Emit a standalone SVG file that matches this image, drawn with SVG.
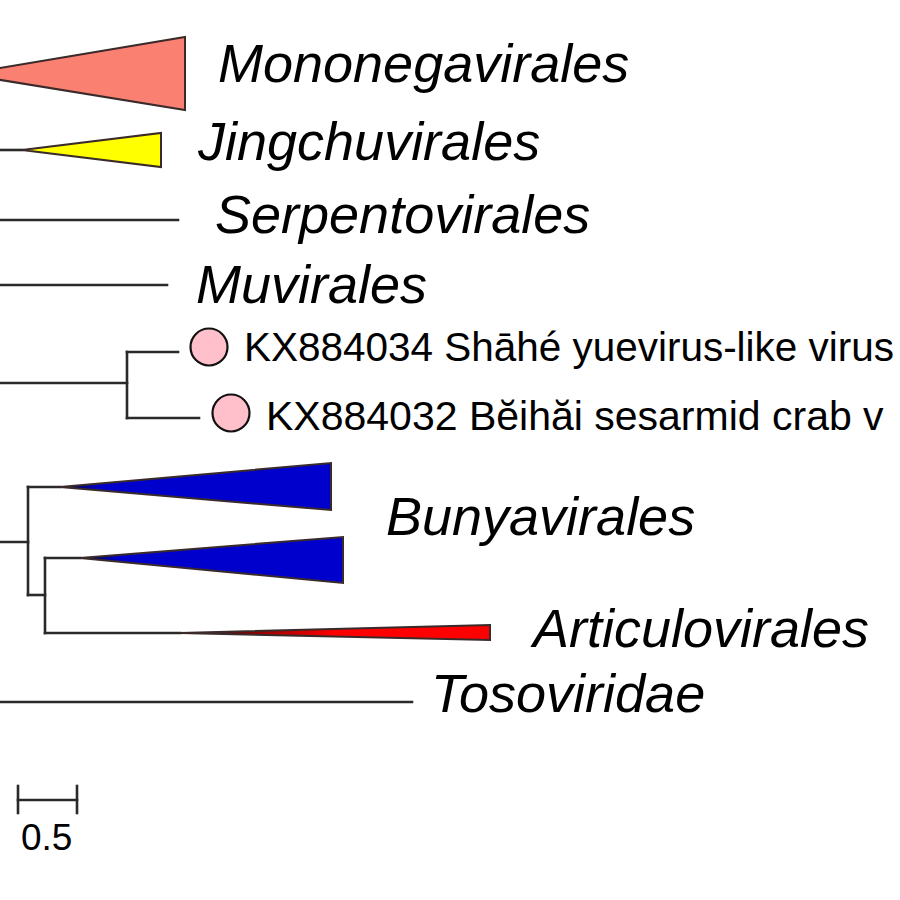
<svg xmlns="http://www.w3.org/2000/svg" width="900" height="900" viewBox="0 0 900 900">
<style>
.br{stroke:#2a2a2a;stroke-width:2.6;fill:none;stroke-linecap:square}
.tri{stroke:#3a2a2a;stroke-width:2;stroke-linejoin:miter}
.lab{font-family:"Liberation Sans",Arial,sans-serif;font-style:italic;font-size:54px;fill:#000}
.acc{font-family:"Liberation Sans",Arial,sans-serif;font-size:41px;fill:#000}
.dot{fill:#FFC0CB;stroke:#111;stroke-width:2.2}
</style>
<defs>
<linearGradient id="redg" x1="180" y1="0" x2="490" y2="0" gradientUnits="userSpaceOnUse">
<stop offset="0" stop-color="#2a0000"/>
<stop offset="0.5" stop-color="#ff0000"/>
<stop offset="1" stop-color="#ff0000"/>
</linearGradient>
<linearGradient id="blueg1" x1="60" y1="0" x2="331" y2="0" gradientUnits="userSpaceOnUse">
<stop offset="0" stop-color="#000030"/>
<stop offset="0.15" stop-color="#0000CD"/>
<stop offset="1" stop-color="#0000CD"/>
</linearGradient>
<linearGradient id="blueg2" x1="80" y1="0" x2="343" y2="0" gradientUnits="userSpaceOnUse">
<stop offset="0" stop-color="#000030"/>
<stop offset="0.15" stop-color="#0000CD"/>
<stop offset="1" stop-color="#0000CD"/>
</linearGradient>
</defs>
<rect x="0" y="0" width="900" height="900" fill="#fff"/>
<g id="connectors">
<line class="br" x1="-5" y1="150" x2="22" y2="150"/>
<line class="br" x1="-5" y1="220" x2="178" y2="220"/>
<line class="br" x1="-5" y1="285" x2="167" y2="285"/>
<line class="br" x1="-5" y1="383" x2="127" y2="383"/>
<line class="br" x1="127" y1="352" x2="127" y2="418"/>
<line class="br" x1="127" y1="352" x2="178" y2="352"/>
<line class="br" x1="127" y1="418" x2="199" y2="418"/>
<line class="br" x1="-5" y1="542" x2="28" y2="542"/>
<line class="br" x1="28" y1="487" x2="28" y2="595"/>
<line class="br" x1="28" y1="487" x2="60" y2="487"/>
<line class="br" x1="28" y1="595" x2="45" y2="595"/>
<line class="br" x1="45" y1="558" x2="45" y2="633"/>
<line class="br" x1="45" y1="558" x2="80" y2="558"/>
<line class="br" x1="45" y1="633" x2="180" y2="633"/>
<line class="br" x1="-5" y1="702" x2="412" y2="702"/>
</g>
<g id="mononegavirales">
<polygon class="tri" fill="#FA8072" points="-36,74 185,37 185,110"/>
<text class="lab" x="218" y="82">Mononegavirales</text>
</g>
<g id="jingchuvirales">
<polygon class="tri" fill="#FFFF00" points="22,150 161,133 161,167"/>
<text class="lab" x="198" y="160">Jingchuvirales</text>
</g>
<g id="serpentovirales">
<text class="lab" x="215" y="233">Serpentovirales</text>
</g>
<g id="muvirales">
<text class="lab" x="196" y="303">Muvirales</text>
</g>
<g id="kx884034">
<circle class="dot" cx="209" cy="347" r="18.5"/>
<text class="acc" x="244" y="361" textLength="650" lengthAdjust="spacingAndGlyphs">KX884034 Shāhé yuevirus-like virus</text>
</g>
<g id="kx884032">
<circle class="dot" cx="231" cy="413" r="18.5"/>
<text class="acc" x="266" y="430">KX884032 Bĕihăi sesarmid crab v</text>
</g>
<g id="bunyavirales">
<polygon class="tri" fill="url(#blueg1)" stroke="#101030" points="60,487 331,463 331,510"/>
<polygon class="tri" fill="url(#blueg2)" stroke="#101030" points="80,558 343,537 343,583"/>
<text class="lab" x="386" y="535">Bunyavirales</text>
</g>
<g id="articulovirales">
<polygon class="tri" fill="url(#redg)" stroke="#3a0000" stroke-width="1.8" points="180,633 490,625 490,640"/>
<text class="lab" x="533" y="647">Articulovirales</text>
</g>
<g id="tosoviridae">
<text class="lab" x="431" y="712">Tosoviridae</text>
</g>
<g id="scalebar">
<line class="br" x1="18" y1="800" x2="77" y2="800"/>
<line class="br" x1="18" y1="786" x2="18" y2="813"/>
<line class="br" x1="77" y1="786" x2="77" y2="813"/>
<text class="acc" x="21" y="850" style="font-size:37px">0.5</text>
</g>
</svg>
